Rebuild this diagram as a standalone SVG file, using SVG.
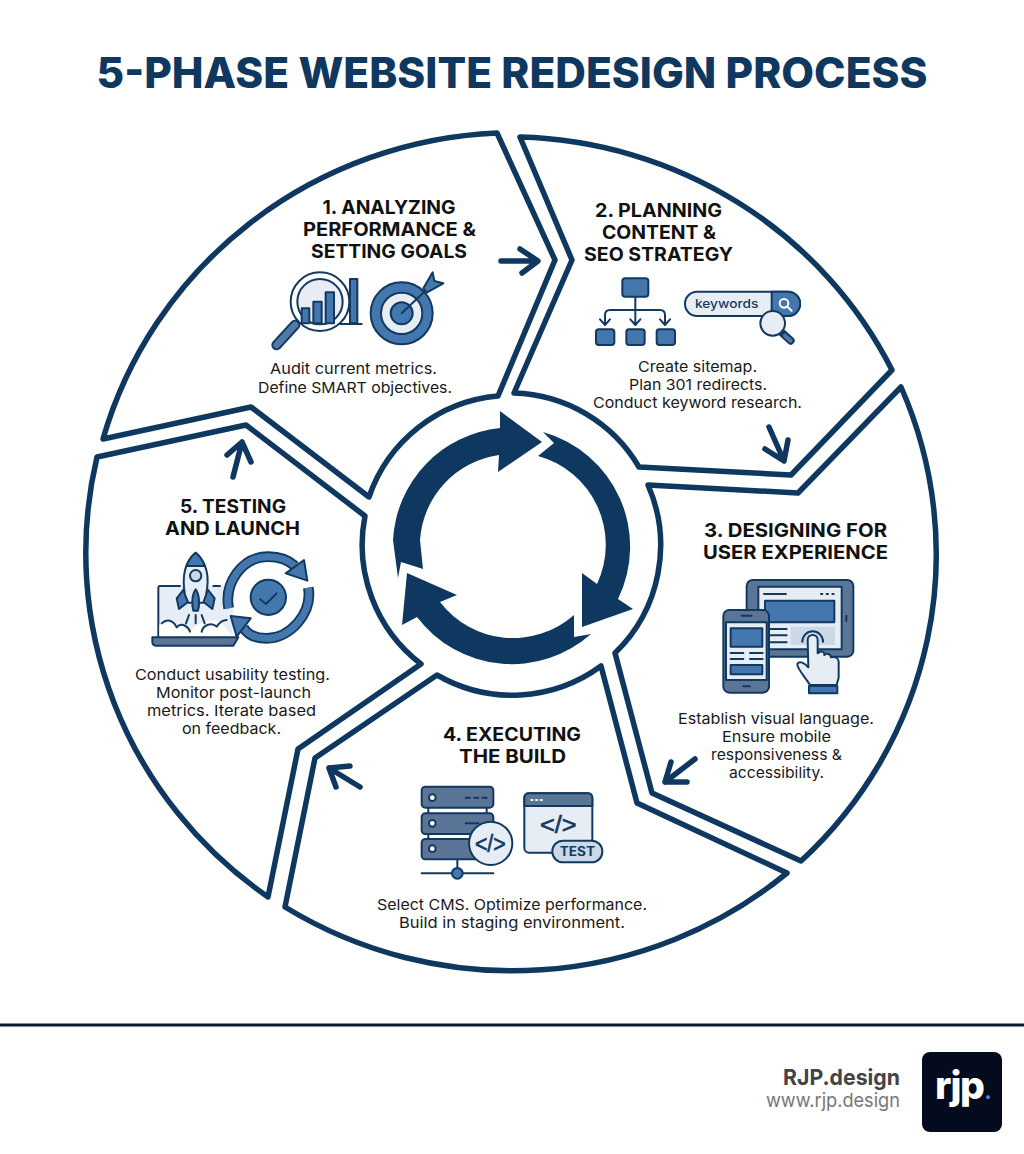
<svg xmlns="http://www.w3.org/2000/svg" width="1024" height="1154" viewBox="0 0 1024 1154">
<style>
.seg{fill:#fff;stroke:#0f3861;stroke-width:5.500;stroke-linejoin:round}
.con{fill:none;stroke:#0f3861;stroke-width:5.500;stroke-linecap:round;stroke-linejoin:round}
.ring{fill:#0f3861}
.h{font-family:"Inter","Liberation Sans",sans-serif;font-weight:700;font-size:19px;fill:#111;text-anchor:middle}
.b{font-family:"Inter","Liberation Sans",sans-serif;font-weight:400;font-size:15px;fill:#1a1a1a;text-anchor:middle}
.i{stroke:#12395f;stroke-width:6;stroke-linecap:round;stroke-linejoin:round}
.n{fill:none}.bl{fill:#4377ae}.lt{fill:#e7edf5}.gr{fill:#5a7596}.wh{fill:#fff}.md{fill:#cbd8e7}.dk{fill:#12395f}
</style>
<rect width="1024" height="1154" fill="#fff"/>
<text x="512" y="88" text-anchor="middle" font-family="Inter,'Liberation Sans',sans-serif" font-weight="800" font-size="43" fill="#0f3861" textLength="831" lengthAdjust="spacingAndGlyphs">5-PHASE WEBSITE REDESIGN PROCESS</text>

<g id="segment-1"><path class="seg" d="M103,439A429,421 0 0 1 497,133L555,260L498,396A150,150 0 0 0 369,497L251,407Z"/>
<text class="h" x="389" y="214" textLength="133" lengthAdjust="spacingAndGlyphs">1. ANALYZING</text>
<text class="h" x="389.500" y="236" textLength="173" lengthAdjust="spacingAndGlyphs">PERFORMANCE &amp;</text>
<text class="h" x="389" y="258" textLength="156" lengthAdjust="spacingAndGlyphs">SETTING GOALS</text>
<g transform="translate(260 180) scale(.33333)">
<path class="i bl" d="M270,430V297H292V430Z"/><path class="i n" d="M240,432H305"/>
<path d="M105,435L50,495" stroke="#12395f" stroke-width="32" stroke-linecap="round"/><path d="M105,435L50,495" stroke="#4f7aa8" stroke-width="20" stroke-linecap="round"/>
<circle class="i wh" cx="180" cy="365" r="88"/><circle class="i lt" cx="180" cy="365" r="68"/>
<path class="i bl" d="M125,430V385H148V430ZM160,430V365H185V430ZM197,430V337H222V430Z"/>
<circle class="i bl" cx="425" cy="400" r="93"/><circle class="i lt" cx="425" cy="400" r="62"/><circle class="i bl" cx="425" cy="400" r="33"/>
<path class="i n" d="M425,400L520,310"/>
<path class="i bl" d="M490,325L518,277L523,303L550,310L500,338Z"/>
</g>
<text class="b" x="353.500" y="374" textLength="167" lengthAdjust="spacingAndGlyphs">Audit current metrics.</text>
<text class="b" x="355" y="393" textLength="194" lengthAdjust="spacingAndGlyphs">Define SMART objectives.</text>
</g>

<g id="segment-2"><path class="seg" d="M520,137A429,421 0 0 1 892,370L791,475L639,467A150,150 0 0 0 514,393L572,260Z"/>
<text class="h" x="658.500" y="217" textLength="127" lengthAdjust="spacingAndGlyphs">2. PLANNING</text>
<text class="h" x="659" y="239" textLength="114" lengthAdjust="spacingAndGlyphs">CONTENT &amp;</text>
<text class="h" x="658.500" y="261" textLength="149" lengthAdjust="spacingAndGlyphs">SEO STRATEGY</text>
<g transform="translate(510 190) scale(.33333)">
<path class="i n" d="M376,320V400M285,400V375Q285,360 300,360H450Q465,360 465,375V400M270,388L285,405L300,388M361,388L376,405L391,388M450,388L465,405L480,388"/>
<rect class="i bl" x="337" y="265" width="78" height="55" rx="9"/>
<rect class="i bl" x="258" y="418" width="55" height="47" rx="8"/><rect class="i bl" x="349" y="418" width="55" height="47" rx="8"/><rect class="i bl" x="440" y="418" width="55" height="47" rx="8"/>
<rect class="i lt" x="525" y="305" width="345" height="73" rx="36"/>
<path class="i bl" d="M785,305H834A36,36 0 0 1 834,378H785Z"/>
<circle cx="822" cy="340" r="13" fill="none" stroke="#fff" stroke-width="6"/><path d="M832,350L845,362" stroke="#fff" stroke-width="6" stroke-linecap="round"/>
<text x="555" y="354" font-family="Inter,'Liberation Sans',sans-serif" font-weight="500" font-size="37" fill="#12395f" textLength="190" lengthAdjust="spacingAndGlyphs">keywords</text>
<path d="M818,430L842,452" stroke="#12395f" stroke-width="24" stroke-linecap="round"/><path d="M825,437L842,452" stroke="#4f7aa8" stroke-width="12" stroke-linecap="round"/>
<circle class="i lt" cx="788" cy="400" r="37"/>
</g>
<text class="b" x="697.500" y="372" textLength="119" lengthAdjust="spacingAndGlyphs">Create sitemap.</text>
<text class="b" x="698" y="390" textLength="138" lengthAdjust="spacingAndGlyphs">Plan 301 redirects.</text>
<text class="b" x="697.500" y="408" textLength="209" lengthAdjust="spacingAndGlyphs">Conduct keyword research.</text>
</g>

<g id="segment-3"><path class="seg" d="M901,387A429,421 0 0 1 801,861L652,793L615,653A150,150 0 0 0 648,485L798,493Z"/>
<text class="h" x="795.500" y="537" textLength="183" lengthAdjust="spacingAndGlyphs">3. DESIGNING FOR</text>
<text class="h" x="795.500" y="559" textLength="185" lengthAdjust="spacingAndGlyphs">USER EXPERIENCE</text>
<g transform="translate(640 560) scale(.33333)">
<rect class="i gr" x="320" y="60" width="320" height="230" rx="18"/>
<rect class="i lt" x="355" y="80" width="250" height="188"/>
<path class="i n" d="M372,102H438M390,207H440M390,226H440M390,247H440"/>
<path d="M543,102H547M560,102H564M577,102H581" stroke="#12395f" stroke-width="6" stroke-linecap="round"/>
<rect class="i bl" x="375" y="122" width="208" height="65"/><rect class="md" x="452" y="200" width="133" height="55"/>
<path class="i n" d="M619,167V183"/>
<rect class="i gr" x="250" y="150" width="137" height="248" rx="18"/>
<rect class="i lt" x="258" y="187" width="122" height="173"/>
<path class="i n" d="M305,167H335M272,279H310M330,279H368M272,297H310M330,297H368M310,379H330"/>
<rect class="i bl" x="272" y="205" width="95" height="55"/><rect class="i bl" x="272" y="315" width="95" height="28"/>
<path class="i n" d="M487,245A31,31 0 1 1 549,245"/>
<path class="i lt" d="M510,375C495,350 470,325 472,312C478,300 495,310 505,322L503,240C503,220 533,220 533,240L533,280C545,270 553,275 553,285C560,278 572,282 573,292C585,288 596,295 596,305L596,350C596,360 590,370 590,375Z"/>
<path class="i bl" d="M507,378H592V400H507Z"/>
</g>
<text class="b" x="776" y="724" textLength="196" lengthAdjust="spacingAndGlyphs">Establish visual language.</text>
<text class="b" x="776.500" y="742" textLength="109" lengthAdjust="spacingAndGlyphs">Ensure mobile</text>
<text class="b" x="776.500" y="760" textLength="131" lengthAdjust="spacingAndGlyphs">responsiveness &amp;</text>
<text class="b" x="776.500" y="778" textLength="95" lengthAdjust="spacingAndGlyphs">accessibility.</text>
</g>

<g id="segment-4"><path class="seg" d="M787,873A429,421 0 0 1 285,907L315,758L437,675A150,150 0 0 0 601,666L637,803Z"/>
<text class="h" x="512" y="741" textLength="138" lengthAdjust="spacingAndGlyphs">4. EXECUTING</text>
<text class="h" x="512.500" y="763" textLength="107" lengthAdjust="spacingAndGlyphs">THE BUILD</text>
<g transform="translate(370 770) scale(.33333)">
<path class="i n" d="M175,113V130M350,113V130M175,192V207M350,192V207M262,268V310M155,310H370"/>
<rect class="i gr" x="155" y="50" width="215" height="63" rx="11"/><rect class="i gr" x="155" y="130" width="215" height="62" rx="11"/><rect class="i gr" x="155" y="207" width="215" height="61" rx="11"/>
<circle class="i wh" cx="187" cy="83" r="10"/><circle class="i wh" cx="187" cy="160" r="10"/><circle class="i wh" cx="187" cy="236" r="10"/>
<path class="i n" d="M287,83H300M312,83H325M337,83H350M287,160H325"/>
<circle class="i bl" cx="262" cy="310" r="16"/>
<circle class="i lt" cx="362" cy="220" r="65"/>
<text x="361" y="246" text-anchor="middle" font-family="'Liberation Sans',sans-serif" font-size="70" fill="#12395f" stroke="#12395f" stroke-width="2" textLength="92" lengthAdjust="spacingAndGlyphs">&lt;/&gt;</text>
<rect class="i lt" x="463" y="70" width="204" height="178" rx="14"/>
<path class="i gr" d="M463,108V84Q463,70 477,70H653Q667,70 667,84V108Z"/>
<path d="M484,90H488M498,90H502M512,90H516" stroke="#e7edf5" stroke-width="6" stroke-linecap="round"/>
<text x="565" y="190" text-anchor="middle" font-family="'Liberation Sans',sans-serif" font-size="72" fill="#12395f" stroke="#12395f" stroke-width="2" textLength="110" lengthAdjust="spacingAndGlyphs">&lt;/&gt;</text>
<rect class="i md" x="547" y="212" width="150" height="65" rx="32"/>
<text x="622" y="259" text-anchor="middle" font-family="Inter,'Liberation Sans',sans-serif" font-weight="700" font-size="38" fill="#12395f" textLength="106" lengthAdjust="spacingAndGlyphs">TEST</text>
</g>
<text class="b" x="512" y="910" textLength="270" lengthAdjust="spacingAndGlyphs">Select CMS. Optimize performance.</text>
<text class="b" x="512" y="928" textLength="226" lengthAdjust="spacingAndGlyphs">Build in staging environment.</text>
</g>

<g id="segment-5"><path class="seg" d="M268,897A429,421 0 0 1 97,457L246,425L365,516A150,150 0 0 0 421,664L298,749Z"/>
<text class="h" x="233" y="513" textLength="106" lengthAdjust="spacingAndGlyphs">5. TESTING</text>
<text class="h" x="232.500" y="535" textLength="135" lengthAdjust="spacingAndGlyphs">AND LAUNCH</text>
<g transform="translate(120 540) scale(.33333)">
<path class="lt" d="M115,290V138H340V290Z"/>
<path class="i n" d="M180,138H120Q115,138 115,145V290M280,138H300"/>
<path class="wh" d="M118,290V255C135,235 160,240 170,262C185,245 205,260 210,275C235,245 275,235 300,245L340,290Z"/>
<path class="i n" d="M125,250C140,235 160,240 170,262C185,245 205,260 210,275M245,275C250,255 275,245 290,260C300,245 310,240 320,240M207,225L198,250M245,225L254,250M227,225V250"/>
<path class="i gr" d="M97,292H355L340,317H110Q97,317 97,305Z"/>
<path class="i bl" d="M190,150L170,175L177,207L205,185ZM264,150L284,175L277,207L250,185Z"/>
<path class="i lt" d="M227,38C195,65 185,110 195,165L205,188H250L258,165C270,110 258,65 227,38Z"/>
<path class="i bl" d="M227,38C212,50 203,65 200,78H254C250,65 242,50 227,38Z"/>
<circle class="i md" cx="227" cy="107" r="17"/>
<path class="i bl" d="M227,148C215,165 215,195 220,212H234C239,195 239,165 227,148Z"/>
<path d="M326,205C312,130 365,50 445,50C480,50 505,60 525,78" fill="none" stroke="#12395f" stroke-width="32"/>
<path d="M326,205C312,130 365,50 445,50C480,50 505,60 525,78" fill="none" stroke="#4377ae" stroke-width="21"/>
<path class="i bl" d="M552,60L562,122L497,100Z"/>
<path d="M565,143C578,220 510,295 440,295C400,295 380,280 370,262" fill="none" stroke="#12395f" stroke-width="32"/>
<path d="M565,143C578,220 510,295 440,295C400,295 380,280 370,262" fill="none" stroke="#4377ae" stroke-width="21"/>
<path class="i bl" d="M332,228L392,235L350,290Z"/>
<circle class="i bl" cx="445" cy="172" r="53"/>
<path class="i n" d="M420,178L438,192L470,160"/>
</g>
<text class="b" x="232.500" y="680" textLength="195" lengthAdjust="spacingAndGlyphs">Conduct usability testing.</text>
<text class="b" x="233.500" y="698" textLength="155" lengthAdjust="spacingAndGlyphs">Monitor post-launch</text>
<text class="b" x="231.500" y="716" textLength="169" lengthAdjust="spacingAndGlyphs">metrics. Iterate based</text>
<text class="b" x="231.500" y="734" textLength="99" lengthAdjust="spacingAndGlyphs">on feedback.</text>
</g>

<g id="connectors">
<path class="con" d="M501,261H537M520,249L538,261L522,273"/>
<path class="con" d="M769,427L784,461M765,449L784,461L788,440"/>
<path class="con" d="M695,759L665,782M671,762L665,782L687,782"/>
<path class="con" d="M360,787L329,768M350,766L329,768L336,787"/>
<path class="con" d="M233,477L242,442M227,455L242,442L251,462"/>
</g>

<g id="center-cycle">
<path class="ring" d="M398,578L393,540A119,119 0 0 1 500,428L500,411L542,442L498,472L499,455A92,92 0 0 0 420,540L423,569L401,562Z"/>
<path class="ring" d="M543,432A119,119 0 0 1 618,599L633,609L582,627L582,573L597,584A92,92 0 0 0 538,456L554,443Z"/>
<path class="ring" d="M591,634A119,119 0 0 1 417,617L402,625L407,573L457,595L440,602A92,92 0 0 0 574,615L574,637Z"/>
</g>

<g id="footer">
<path d="M0,1025H1024" stroke="#0c1a33" stroke-width="3"/>
<text x="900" y="1085" text-anchor="end" font-family="Inter,'Liberation Sans',sans-serif" font-weight="700" font-size="22" fill="#444" textLength="117" lengthAdjust="spacingAndGlyphs">RJP.design</text>
<text x="900" y="1107" text-anchor="end" font-family="Inter,'Liberation Sans',sans-serif" font-size="19" fill="#777" textLength="134" lengthAdjust="spacingAndGlyphs">www.rjp.design</text>
<rect x="922" y="1052" width="80" height="80" rx="8" fill="#050b1e"/>
<text x="935" y="1099" font-family="Inter,'Liberation Sans',sans-serif" font-weight="800" font-size="39" fill="#fff" letter-spacing="-1.500">rjp<tspan fill="#3b93e0" font-size="20" dx="1">.</tspan></text>
</g>
</svg>
